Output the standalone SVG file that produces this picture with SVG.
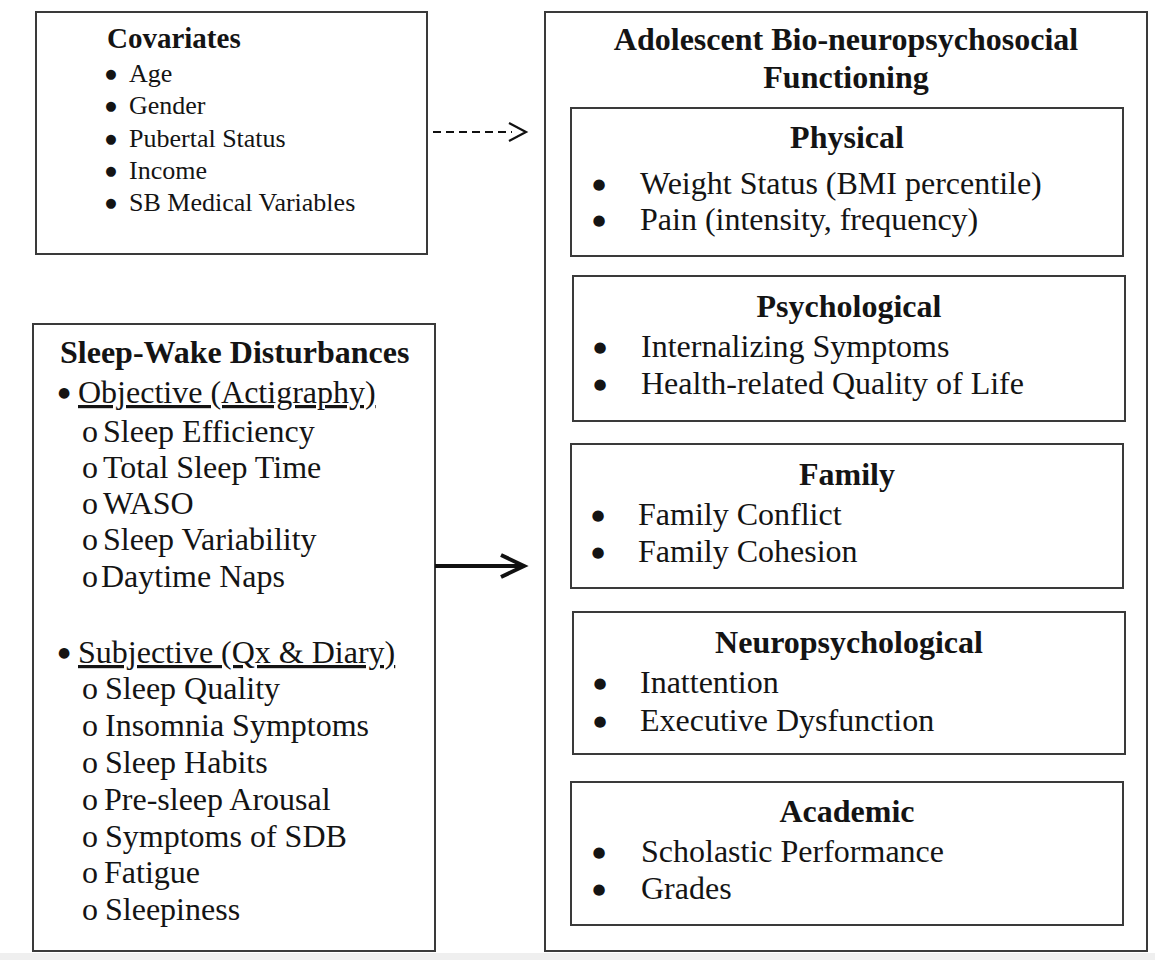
<svg xmlns="http://www.w3.org/2000/svg" width="1155" height="960" viewBox="0 0 1155 960">
<style>
text{font-family:"Liberation Serif","Times New Roman",serif;fill:#141414}
.box{fill:#fff;stroke:#3a3a3a;stroke-width:2}
.t{font-weight:bold;font-size:32px}
.tc{font-weight:bold;font-size:29px}
.i{font-size:32px}
.ic{font-size:26px}
.b{font-family:"DejaVu Sans",sans-serif;font-size:15px;text-anchor:middle}
.bc{font-family:"DejaVu Sans",sans-serif;font-size:13px;text-anchor:middle}
.bs{font-family:"DejaVu Sans",sans-serif;font-size:14px;text-anchor:middle}
.c{text-anchor:middle}
.u{text-decoration:underline}
.ln{fill:none;stroke:#111;stroke-linecap:butt}
</style>
<rect x="0" y="0" width="1155" height="960" fill="#fff"/>
<rect x="0" y="953" width="1155" height="7" fill="#efefef"/>

<g id="covariates">
<rect class="box" x="36" y="12" width="391" height="242"/>
<text class="tc" x="107" y="48">Covariates</text>
<text class="bc" x="111" y="78">●</text><text class="ic" x="129" y="82">Age</text>
<text class="bc" x="111" y="110">●</text><text class="ic" x="129" y="114">Gender</text>
<text class="bc" x="111" y="143">●</text><text class="ic" x="129" y="147">Pubertal Status</text>
<text class="bc" x="111" y="175">●</text><text class="ic" x="129" y="179">Income</text>
<text class="bc" x="111" y="207">●</text><text class="ic" x="129" y="211">SB Medical Variables</text>
</g>

<g id="sleep-wake">
<rect class="box" x="33" y="324" width="402" height="627"/>
<text class="t" x="60" y="363">Sleep-Wake Disturbances</text>
<text class="bs" x="64" y="397">●</text><text class="i u" x="78" y="403">Objective (Actigraphy)</text>
<text class="i" x="82" y="442">o<tspan x="103">Sleep Efficiency</tspan></text>
<text class="i" x="82" y="478">o<tspan x="103">Total Sleep Time</tspan></text>
<text class="i" x="82" y="514">o<tspan x="103">WASO</tspan></text>
<text class="i" x="82" y="550">o<tspan x="103">Sleep Variability</tspan></text>
<text class="i" x="82" y="587">o<tspan x="101">Daytime Naps</tspan></text>
<text class="bs" x="64" y="657">●</text><text class="i u" x="78" y="663">Subjective (Qx &amp; Diary)</text>
<text class="i" x="82" y="699">o<tspan x="105">Sleep Quality</tspan></text>
<text class="i" x="82" y="736">o<tspan x="105">Insomnia Symptoms</tspan></text>
<text class="i" x="82" y="773">o<tspan x="105">Sleep Habits</tspan></text>
<text class="i" x="82" y="810">o<tspan x="104">Pre-sleep Arousal</tspan></text>
<text class="i" x="82" y="847">o<tspan x="105">Symptoms of SDB</tspan></text>
<text class="i" x="82" y="883">o<tspan x="104">Fatigue</tspan></text>
<text class="i" x="82" y="920">o<tspan x="105">Sleepiness</tspan></text>
</g>

<g id="functioning">
<rect class="box" x="545" y="12" width="602" height="939"/>
<text class="t c" x="846" y="50">Adolescent Bio-neuropsychosocial</text>
<text class="t c" x="846" y="88">Functioning</text>
</g>

<g id="physical">
<rect class="box" x="571" y="108" width="552" height="148"/>
<text class="t c" x="847" y="148">Physical</text>
<text class="b" x="599" y="189">●</text><text class="i" x="640" y="194">Weight Status (BMI percentile)</text>
<text class="b" x="599" y="225">●</text><text class="i" x="640" y="230">Pain (intensity, frequency)</text>
</g>

<g id="psychological">
<rect class="box" x="573" y="276" width="552" height="145"/>
<text class="t c" x="849" y="317">Psychological</text>
<text class="b" x="600" y="352">●</text><text class="i" x="641" y="357">Internalizing Symptoms</text>
<text class="b" x="600" y="389">●</text><text class="i" x="641" y="394">Health-related Quality of Life</text>
</g>

<g id="family">
<rect class="box" x="571" y="444" width="552" height="144"/>
<text class="t c" x="847" y="485">Family</text>
<text class="b" x="598" y="520">●</text><text class="i" x="638" y="525">Family Conflict</text>
<text class="b" x="598" y="557">●</text><text class="i" x="638" y="562">Family Cohesion</text>
</g>

<g id="neuropsychological">
<rect class="box" x="573" y="612" width="552" height="142"/>
<text class="t c" x="849" y="653">Neuropsychological</text>
<text class="b" x="600" y="688">●</text><text class="i" x="640" y="693">Inattention</text>
<text class="b" x="600" y="726">●</text><text class="i" x="640" y="731">Executive Dysfunction</text>
</g>

<g id="academic">
<rect class="box" x="571" y="782" width="552" height="143"/>
<text class="t c" x="847" y="822">Academic</text>
<text class="b" x="599" y="857">●</text><text class="i" x="641" y="862">Scholastic Performance</text>
<text class="b" x="599" y="894">●</text><text class="i" x="641" y="899">Grades</text>
</g>

<g id="connectors">
<line class="ln" x1="433" y1="132" x2="512" y2="132" stroke-width="2" stroke-dasharray="8 5"/>
<polyline class="ln" points="509,123 526,132 509,141" stroke-width="2.2" stroke-linejoin="miter"/>
<line class="ln" x1="435" y1="566" x2="523" y2="566" stroke-width="4"/>
<polyline class="ln" points="501,555 524,566 501,577" stroke-width="4" stroke-linejoin="miter"/>
</g>
</svg>
